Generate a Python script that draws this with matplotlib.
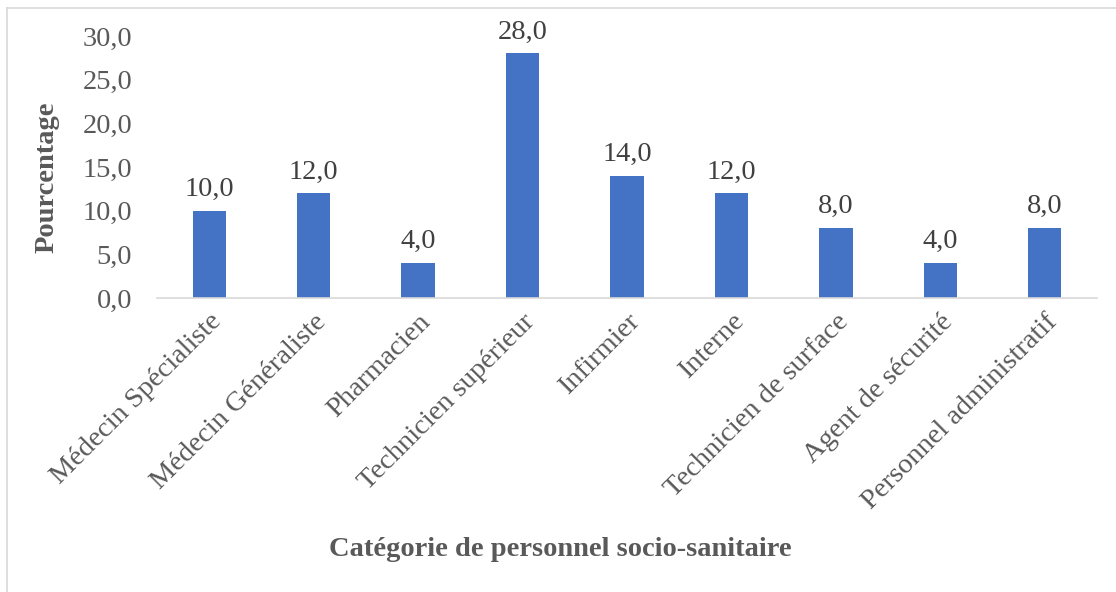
import numpy as np
import matplotlib.pyplot as plt
from matplotlib.lines import Line2D

categories = ['Médecin Spécialiste', 'Médecin Généraliste', 'Pharmacien',
              'Technicien supérieur', 'Infirmier', 'Interne',
              'Technicien de surface', 'Agent de sécurité', 'Personnel administratif']
pourcentages = [10.0, 12.0, 4.0, 28.0, 14.0, 12.0, 8.0, 4.0, 8.0]
yticks = [0, 5, 10, 15, 20, 25, 30]

plt.rcParams['font.family'] = ['Liberation Serif', 'DejaVu Serif']
fs = 20.5

W, H = 1116, 592
fig = plt.figure(figsize=(W / 100, H / 100), dpi=100)
ax = fig.add_axes([157 / W, (H - 298) / H, 940 / W, 262 / H])

x = np.arange(len(categories))
bars = ax.bar(x, pourcentages, width=0.32, color='#4472C4')
for b, v in zip(bars, pourcentages):
    ax.text(b.get_x() + b.get_width() / 2, v + 1.0, f'{v:.1f}'.replace('.', ','),
            ha='center', va='bottom', fontsize=fs, color='#404040')

ax.set_xlim(-0.5, len(categories) - 0.5)
ax.set_ylim(0, 30)
ax.set_yticks(yticks)
ax.set_yticklabels([f'{t:.1f}'.replace('.', ',') for t in yticks], fontsize=fs, color='#595959')
ax.set_xticks(x)
ax.set_xticklabels(categories, rotation=45, ha='right', rotation_mode='anchor',
                   fontsize=fs, color='#595959')
ax.tick_params(axis='both', length=0)
ax.tick_params(axis='y', pad=18)
ax.tick_params(axis='x', pad=8)

for s in ['top', 'right', 'left']:
    ax.spines[s].set_visible(False)
ax.spines['bottom'].set_color('#D9D9D9')
ax.spines['bottom'].set_linewidth(1.2)

fig.text(47 / W, 1 - 177 / H, 'Pourcentage', rotation=90, ha='center', va='center',
         fontsize=fs, fontweight='bold', color='#595959')
fig.text(560 / W, 1 - 549 / H, 'Catégorie de personnel socio-sanitaire', ha='center',
         va='center', fontsize=fs, fontweight='bold', color='#595959')

# light frame of the chart area
fig.add_artist(Line2D([7 / W, 7 / W], [0, 1 - 8 / H], color='#D9D9D9', lw=1.2))
fig.add_artist(Line2D([7 / W, 1], [1 - 8 / H, 1 - 8 / H], color='#D9D9D9', lw=1.2))

fig.savefig('out.png', dpi=100)
